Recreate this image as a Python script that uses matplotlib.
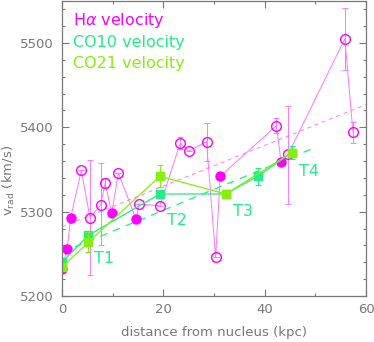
import numpy as np
import matplotlib
matplotlib.use('Agg')
import matplotlib.pyplot as plt
from matplotlib.ticker import MultipleLocator

# H-alpha velocities (sorted by distance), filled / open markers
ha_x = [0.0, 1.0, 1.7, 3.8, 5.5, 7.6, 8.5, 9.8, 11.1, 14.6, 15.2, 19.3,
        23.3, 25.0, 28.5, 30.3, 31.2, 42.3, 43.2, 44.6, 55.8, 57.4]
ha_v = [5232, 5256, 5293, 5349, 5293, 5308, 5334, 5298, 5346, 5291, 5309, 5307,
        5381, 5372, 5383, 5246, 5342, 5402, 5359, 5368, 5505, 5394]
ha_filled = [1, 1, 1, 0, 0, 0, 0, 1, 0, 1, 0, 0,
             0, 0, 0, 0, 1, 0, 1, 0, 0, 0]
ha_err_lo = [0, 0, 0, 0, 68, 48, 6, 0, 0, 0, 0, 0,
             7, 0, 23, 0, 0, 9, 0, 59, 37, 12]
ha_err_hi = [0, 0, 0, 0, 68, 50, 6, 0, 0, 0, 0, 0,
             7, 0, 22, 0, 0, 9, 0, 57, 37, 12]

# CO velocities
co10_x = [0.0, 5.2, 19.3, 32.3, 38.6, 45.3]
co10_v = [5240, 5272, 5321, 5321, 5342, 5370]
co10_err = [0, 0, 0, 0, 10, 8]
co21_x = [0.0, 5.2, 19.3, 32.3, 45.3]
co21_v = [5234, 5264, 5342, 5321, 5370]
co21_err = [0, 12, 13, 0, 0]

# linear fits (end points)
ha_fit_x = [0, 60]
ha_fit_v = [5282, 5427]
co_fit_x = [0, 49.5]
co_fit_v = [5252, 5375]

# tidal features
t_labels = ['T1', 'T2', 'T3', 'T4']
t_x = [8.3, 22.7, 35.7, 48.7]
t_v = [5245, 5289, 5300, 5348]

c_ha = '#ff00ff'
c_ha_line = '#ff77ff'
c_co10 = '#22ee88'
c_co21 = '#88ee11'
grey = '#777777'

fig = plt.figure(figsize=(3.74, 3.42), dpi=100)
ax = fig.add_axes([0.166, 0.1345, 0.813, 0.863])

ha_x = np.array(ha_x)
ha_v = np.array(ha_v)
filled = np.array(ha_filled, dtype=bool)

ax.plot(ha_fit_x, ha_fit_v, ls=(0, (4, 4)), color=c_ha_line, lw=0.7)
ax.plot(co_fit_x, co_fit_v, ls=(0, (6, 5)), color=c_co10, lw=0.9)

ax.errorbar(ha_x, ha_v, yerr=[ha_err_lo, ha_err_hi], fmt='none',
            ecolor=c_ha_line, elinewidth=0.7, capsize=2, capthick=0.7)
ax.plot(ha_x, ha_v, color=c_ha_line, lw=0.7)
ax.plot(ha_x[filled], ha_v[filled], 'o', ms=6.5, color=c_ha, mec=c_ha)
ax.plot(ha_x[~filled], ha_v[~filled], 'o', ms=7, mfc='none', mec=c_ha, mew=1.0)

ax.errorbar(co10_x, co10_v, yerr=co10_err, fmt='none', ecolor=c_co10,
            elinewidth=0.8, capsize=2, capthick=0.8)
ax.plot(co10_x, co10_v, '-s', color=c_co10, ms=6, lw=0.9)
ax.errorbar(co21_x, co21_v, yerr=co21_err, fmt='none', ecolor=c_co21,
            elinewidth=0.8, capsize=2, capthick=0.8)
ax.plot(co21_x, co21_v, '-s', color=c_co21, ms=6, lw=0.9)

for lab, x, v in zip(t_labels, t_x, t_v):
    ax.text(x, v, lab, color=c_co10, fontsize=11.5, ha='center', va='center')

ax.text(0.035, 0.932, r'H$\alpha$ velocity', transform=ax.transAxes,
        color=c_ha, fontsize=11.5, va='center')
ax.text(0.035, 0.858, 'CO10 velocity', transform=ax.transAxes,
        color=c_co10, fontsize=11.5, va='center')
ax.text(0.035, 0.787, 'CO21 velocity', transform=ax.transAxes,
        color=c_co21, fontsize=11.5, va='center')

ax.set_xlim(0, 60)
ax.set_ylim(5200, 5550)
ax.xaxis.set_major_locator(MultipleLocator(20))
ax.xaxis.set_minor_locator(MultipleLocator(10))
ax.yaxis.set_major_locator(MultipleLocator(100))
ax.yaxis.set_minor_locator(MultipleLocator(20))
ax.tick_params(which='both', direction='in', top=True, right=True,
               color=grey, labelcolor=grey, labelsize=9.5, width=0.8)
ax.tick_params(which='major', length=5)
ax.tick_params(which='minor', length=2.5)
ax.tick_params(axis='x', pad=5)
ax.tick_params(axis='y', pad=6)
for s in ax.spines.values():
    s.set_color(grey)
    s.set_linewidth(0.9)

ax.set_xlabel('distance from nucleus (kpc)', color=grey, fontsize=9.5)
ax.set_ylabel(r'v$_{\rm rad}$ (km/s)', color=grey, fontsize=9.5)
ax.xaxis.set_label_coords(0.5, -0.1)
ax.yaxis.set_label_coords(-0.148, 0.39)

fig.savefig('out.png', dpi=100)
